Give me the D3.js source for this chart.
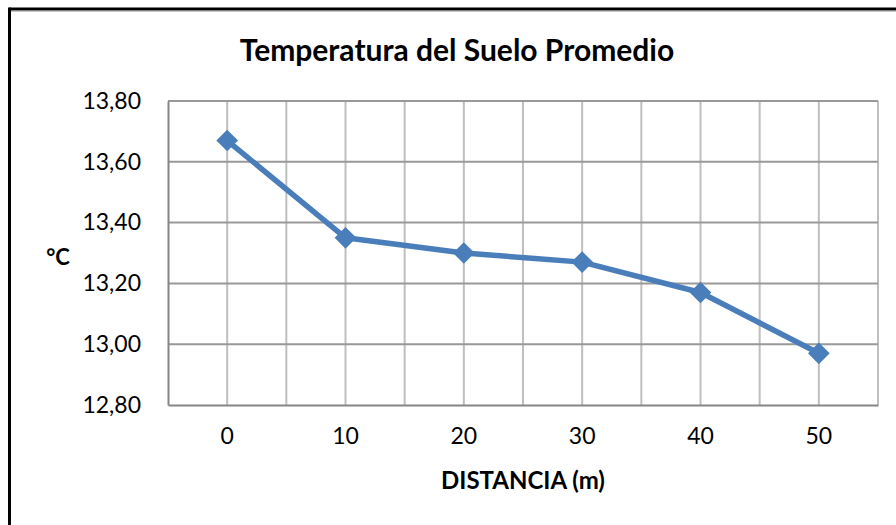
<!DOCTYPE html>
<html>
<head>
<meta charset="utf-8">
<script src="https://cdn.jsdelivr.net/npm/d3@7"></script>
<style>
  html, body { margin: 0; padding: 0; background: #ffffff; }
  svg { display: block; }
  text { font-family: "Lato", "Open Sans", sans-serif; fill: #000; }
</style>
</head>
<body>
<svg id="chart" width="896" height="525"></svg>
<script>
// Mean soil temperature by distance
const distances = ["0", "10", "20", "30", "40", "50"];
const temps = [13.67, 13.35, 13.30, 13.27, 13.17, 12.97];
const yTicks = [12.80, 13.00, 13.20, 13.40, 13.60, 13.80];

const chartTitle = "Temperatura del Suelo Promedio";
const xTitle = "DISTANCIA (m)";
const yTitle = "°C";

const W = 896, H = 525;
const margin = { top: 101, right: 18, bottom: 120, left: 168 };
const innerW = W - margin.left - margin.right;
const innerH = H - margin.top - margin.bottom;

const svg = d3.select("#chart");

// outer frame (top and left edges)
svg.append("line").attr("x1", 9.5).attr("x2", W).attr("y1", 9).attr("y2", 9)
  .attr("stroke", "#000").attr("stroke-width", 3);
svg.append("line").attr("x1", 9.5).attr("x2", W).attr("y1", 11.5).attr("y2", 11.5)
  .attr("stroke", "#c8c8c8").attr("stroke-width", 1);
svg.append("line").attr("x1", 9.5).attr("x2", 9.5).attr("y1", 7.5).attr("y2", H)
  .attr("stroke", "#000").attr("stroke-width", 3);

const g = svg.append("g").attr("transform", `translate(${margin.left},${margin.top})`);

const x = d3.scaleBand().domain(distances).range([0, innerW]).padding(0);
const y = d3.scaleLinear().domain([12.80, 13.80]).range([innerH, 0]);
const cx = d => x(d) + x.bandwidth() / 2;

// vertical gridlines at category centres and between categories
const vLines = [];
distances.forEach(d => { vLines.push(x(d)); vLines.push(cx(d)); });
vLines.push(innerW);
g.append("g").selectAll("line").data(vLines.filter(v => v > 0)).join("line")
  .attr("x1", d => d).attr("x2", d => d)
  .attr("y1", 0).attr("y2", innerH)
  .attr("stroke", "#bfbfbf").attr("stroke-width", 2);

// horizontal gridlines
g.append("g").selectAll("line").data(yTicks.filter(v => v > 12.8)).join("line")
  .attr("x1", 0).attr("x2", innerW)
  .attr("y1", d => y(d)).attr("y2", d => y(d))
  .attr("stroke", "#999999").attr("stroke-width", 2);

// axes
const fmt = v => d3.format(".2f")(v).replace(".", ",");
const yAxis = g.append("g")
  .call(d3.axisLeft(y).tickValues(yTicks).tickFormat(fmt).tickSize(0).tickPadding(27));
yAxis.select(".domain").attr("stroke", "#868686").attr("stroke-width", 2);
yAxis.selectAll("text").attr("font-size", 23).style("font-family", "Lato, 'Open Sans', sans-serif").attr("fill", "#000");

const xAxis = g.append("g").attr("transform", `translate(0,${innerH})`)
  .call(d3.axisBottom(x).tickSize(0).tickPadding(23));
xAxis.select(".domain").attr("stroke", "#868686").attr("stroke-width", 2);
xAxis.selectAll("text").attr("font-size", 23).style("font-family", "Lato, 'Open Sans', sans-serif").attr("fill", "#000");

// data line
const line = d3.line().x((d, i) => cx(distances[i])).y(d => y(d));
g.append("path").datum(temps)
  .attr("d", line)
  .attr("fill", "none")
  .attr("stroke", "#4a7ebb")
  .attr("stroke-width", 5.5)
  .attr("stroke-linejoin", "round");

// diamond markers
const diamond = d3.symbol().type(d3.symbolDiamond2).size(300);
g.append("g").selectAll("path").data(temps).join("path")
  .attr("transform", (d, i) => `translate(${cx(distances[i])},${y(d)})`)
  .attr("d", diamond)
  .attr("fill", "#4a7ebb");

// titles
svg.append("text")
  .attr("x", 457)
  .attr("y", 61)
  .attr("text-anchor", "middle")
  .attr("font-size", 30).attr("font-weight", "bold")
  .text(chartTitle);

svg.append("text")
  .attr("x", margin.left + innerW / 2)
  .attr("y", 489)
  .attr("text-anchor", "middle")
  .attr("font-size", 24).attr("font-weight", "bold")
  .text(xTitle);

svg.append("text")
  .attr("x", 58)
  .attr("y", 265)
  .attr("text-anchor", "middle")
  .attr("font-size", 22).attr("font-weight", "bold")
  .text(yTitle);
</script>
</body>
</html>
